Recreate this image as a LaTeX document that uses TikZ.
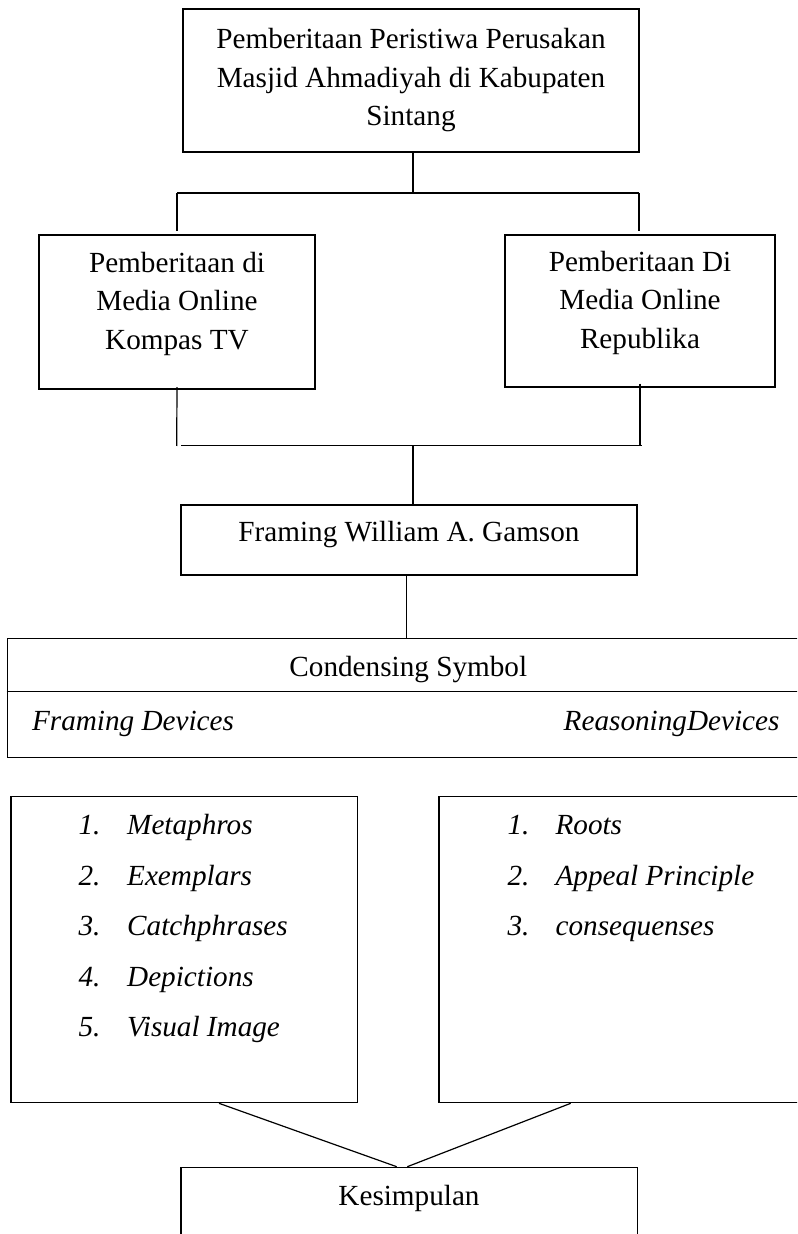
\documentclass[tikz,border=0pt]{standalone}
\usepackage{fontspec}
\setmainfont{Liberation Serif}
\usetikzlibrary{fit}
\begin{document}
\begin{tikzpicture}[x=0.5pt,y=-0.5pt,
  line width=0.6pt,
  box/.style={draw=black, inner sep=0pt, rectangle},
  txt/.style={inner sep=0pt, font=\fontsize{14.6pt}{19.3pt}\selectfont, align=center, anchor=base},
  itm/.style={inner sep=0pt, font=\fontsize{14.6pt}{19.3pt}\selectfont\itshape, anchor=base west},
  conn/.style={draw=black, line width=0.6pt}]
\useasboundingbox (0,0) rectangle (797,1234);
\clip (0,0) rectangle (797,1234);
% boxes
\node (top)   [box, fit={(183,9) (639,152)}] {};
\node (lbox)  [box, fit={(39,235) (315,389)}] {};
\node (rbox)  [box, fit={(505,235) (775,387)}] {};
\node (frame) [box, fit={(181,505) (637,575)}] {};
\node (cond)  [box, fit={(7.3,638.3) (812,757.3)}] {};
\node (llist) [box, fit={(11,796.7) (357.3,1102.7)}] {};
\node (rlist) [box, fit={(439,796.7) (812,1102.7)}] {};
\node (kes)   [box, fit={(181,1167.3) (637.3,1252)}] {};
% texts (base anchor = baseline of the last line)
\node (toptext) [txt] at (411,126) {Pemberitaan Peristiwa Perusakan\\Masjid Ahmadiyah di Kabupaten\\Sintang};
\node (ltext) [txt] at (177,349.3) {Pemberitaan di\\Media Online\\Kompas TV};
\node (rtext) [txt] at (640,348.5) {Pemberitaan Di\\Media Online\\Republika};
\node (ftext) [txt] at (409,541.7) {Framing William A. Gamson};
\node (ctext) [txt] at (408.3,676) {Condensing Symbol};
\node (fdev) [itm] at (31.5,730.7) {Framing Devices};
\node (rdev) [itm, anchor=base east] at (780,730.7) {ReasoningDevices};
\node (ktext) [txt] at (409,1205) {Kesimpulan};
% list items
\node (l1) [itm] at (78,834.3) {\makebox[24.3pt][l]{1.}Metaphros};
\node (l2) [itm] at (78,885) {\makebox[24.3pt][l]{2.}Exemplars};
\node (l3) [itm] at (78,935.5) {\makebox[24.3pt][l]{3.}Catchphrases};
\node (l4) [itm] at (78,986) {\makebox[24.3pt][l]{4.}Depictions};
\node (l5) [itm] at (78,1036.6) {\makebox[24.3pt][l]{5.}Visual Image};
\node (r1) [itm] at (507,834.3) {\makebox[24pt][l]{1.}Roots};
\node (r2) [itm] at (507,885) {\makebox[24pt][l]{2.}Appeal Principle};
\node (r3) [itm] at (507,935.5) {\makebox[24pt][l]{3.}consequenses};
% junction coordinates
\coordinate (jt) at (413,193);
\coordinate (jl) at (177,193);
\coordinate (jr) at (639,193);
\coordinate (jle) at (177,231);
\coordinate (jre) at (639,231);
\coordinate (bl) at (176.7,446);
\coordinate (br) at (640,445.7);
\coordinate (hb1) at (181,445.7);
\coordinate (hb2) at (641.7,445.7);
\coordinate (bm) at (413,445.7);
\coordinate (fc) at (406.7,600);
\coordinate (dv) at (0,691.7);
\coordinate (d1) at (219,0);
\coordinate (d2) at (396.7,0);
\coordinate (d3) at (570.7,0);
\coordinate (d4) at (407.3,0);
% connectors
\draw[conn] (top.south -| jt) -- (jt);
\draw[conn] (jl) -- (jr);
\draw[conn] (jl) -- (jle);
\draw[conn] (jr) -- (jre);
\draw[conn] ([yshift=1.2pt]lbox.south) -- (bl);
\draw[conn] ([yshift=2pt]rbox.south) -- (br);
\draw[conn] (hb1) -- (hb2);
\draw[conn] (bm) -- (frame.north -| bm);
\draw[conn] (frame.south -| fc) -- (cond.north -| fc);
\draw[conn] (cond.west |- dv) -- (cond.east |- dv);
\draw[conn] (llist.south -| d1) -- (kes.north -| d2);
\draw[conn] (rlist.south -| d3) -- (kes.north -| d4);
\end{tikzpicture}
\end{document}
